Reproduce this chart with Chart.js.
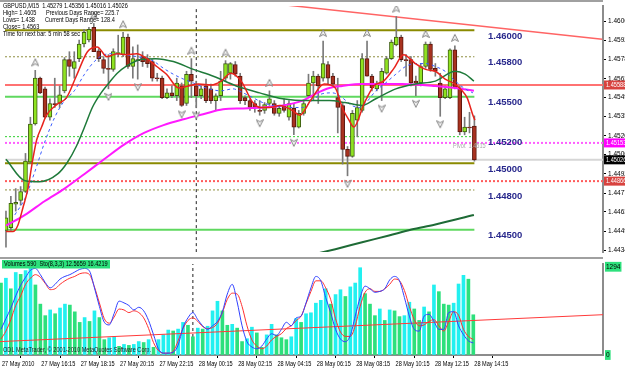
<!DOCTYPE html>
<html><head><meta charset="utf-8">
<script src="https://cdn.jsdelivr.net/npm/chart.js"></script>
<style>
html,body{margin:0;padding:0;background:#fff;}
#wrap{position:relative;width:625px;height:370px;overflow:hidden;background:#fff;}
canvas{position:absolute;left:0;}
#c1{top:0}
#c2{top:257px}
</style></head><body><div id="wrap"><canvas id="c1" width="625" height="258"></canvas><canvas id="c2" width="625" height="113"></canvas></div>
<script>
// ---------------- DATA ----------------
const timeLabels = ["27 May 2010","27 May 16:15","27 May 18:15","27 May 20:15","27 May 22:15","28 May 00:15","28 May 02:15","28 May 04:15","28 May 06:15","28 May 08:15","28 May 10:15","28 May 12:15","28 May 14:15"];
const timeTickIdx = [0,8,16,24,32,40,48,56,64,72,80,88,96];
const priceTicks = [1.46065,1.45925,1.45780,1.45635,1.45495,1.45350,1.45205,1.45065,1.44920,1.44775,1.44635,1.44490,1.44348];

const opens = [1.44495,1.44517,1.44693,1.44722,1.44788,1.45008,1.45295,1.45639,1.45559,1.45346,
1.45449,1.45449,1.45544,1.45779,1.45713,1.45786,1.45896,1.45926,1.46021,1.45845,
1.45779,1.45713,1.45705,1.45823,1.45816,1.45948,1.45727,1.45779,1.45801,1.45786,
1.45764,1.45639,1.45639,1.45493,1.45529,1.45507,1.45581,1.45449,1.45669,1.45581,
1.45507,1.45581,1.45559,1.45471,1.45507,1.45639,1.45676,1.45742,1.45654,1.45493,
1.45471,1.45449,1.45397,1.45397,1.45449,1.45449,1.45375,1.45434,1.45346,1.45412,
1.45272,1.45375,1.45507,1.45603,1.45654,1.45639,1.45742,1.45654,1.45493,1.45434,
1.45104,1.45052,1.45324,1.45397,1.45786,1.45654,1.45559,1.45595,1.45676,1.45786,
1.45889,1.45948,1.45779,1.45779,1.45617,1.45603,1.45727,1.45896,1.45713,1.45603,
1.45493,1.45493,1.45852,1.45566,1.45236,1.45272,1.45279];
const highs = [1.44641,1.44752,1.44810,1.44825,1.45074,1.45346,1.45698,1.45647,1.45573,1.45485,
1.45639,1.45581,1.45794,1.45838,1.45838,1.45926,1.46006,1.46021,1.46050,1.45860,
1.45801,1.45816,1.45860,1.45962,1.45984,1.45970,1.45874,1.45889,1.45838,1.45816,
1.45779,1.45676,1.45654,1.45559,1.45581,1.45639,1.45603,1.45691,1.45786,1.45617,
1.45581,1.45632,1.45595,1.45522,1.45691,1.45771,1.45757,1.45764,1.45676,1.45507,
1.45485,1.45471,1.45471,1.45456,1.45544,1.45471,1.45434,1.45485,1.45471,1.45449,
1.45397,1.45471,1.45669,1.45691,1.45669,1.45918,1.45764,1.45676,1.45639,1.45449,
1.45126,1.45397,1.45471,1.45823,1.45918,1.45669,1.45617,1.45713,1.45801,1.45926,
1.46102,1.45962,1.45816,1.45801,1.45654,1.45749,1.45911,1.45911,1.45749,1.45676,
1.45581,1.45860,1.45882,1.45581,1.45346,1.45383,1.45356];
const lows = [1.44370,1.44495,1.44641,1.44685,1.44781,1.45001,1.45287,1.45522,1.45339,1.45324,
1.45419,1.45419,1.45529,1.45654,1.45639,1.45764,1.45874,1.45911,1.45838,1.45764,
1.45676,1.45559,1.45691,1.45801,1.45801,1.45713,1.45639,1.45632,1.45727,1.45720,
1.45617,1.45617,1.45485,1.45485,1.45493,1.45471,1.45427,1.45434,1.45493,1.45419,
1.45485,1.45456,1.45449,1.45397,1.45471,1.45617,1.45632,1.45654,1.45449,1.45441,
1.45397,1.45383,1.45361,1.45375,1.45434,1.45361,1.45353,1.45383,1.45324,1.45214,
1.45265,1.45361,1.45493,1.45471,1.45449,1.45617,1.45595,1.45581,1.45228,1.44994,
1.44906,1.45045,1.45199,1.45383,1.45654,1.45544,1.45544,1.45471,1.45669,1.45779,
1.45882,1.45764,1.45654,1.45581,1.45507,1.45581,1.45713,1.45691,1.45654,1.45353,
1.45485,1.45485,1.45559,1.45214,1.45214,1.45228,1.45016];
const closes = [1.44590,1.44700,1.44707,1.44788,1.45016,1.45295,1.45639,1.45529,1.45346,1.45449,
1.45441,1.45515,1.45779,1.45727,1.45764,1.45896,1.45984,1.46006,1.45838,1.45786,
1.45713,1.45705,1.45838,1.45830,1.45948,1.45727,1.45786,1.45771,1.45764,1.45749,
1.45639,1.45635,1.45493,1.45529,1.45507,1.45603,1.45434,1.45669,1.45617,1.45507,
1.45559,1.45471,1.45471,1.45507,1.45617,1.45749,1.45749,1.45669,1.45471,1.45471,
1.45419,1.45419,1.45390,1.45441,1.45485,1.45375,1.45412,1.45397,1.45449,1.45272,
1.45375,1.45449,1.45603,1.45654,1.45581,1.45749,1.45639,1.45595,1.45419,1.45104,
1.45052,1.45375,1.45419,1.45786,1.45654,1.45566,1.45603,1.45691,1.45786,1.45911,
1.45948,1.45779,1.45771,1.45603,1.45603,1.45727,1.45896,1.45705,1.45691,1.45493,
1.45559,1.45852,1.45566,1.45236,1.45272,1.45265,1.45026];

const upFractals = [6,18,24,38,45,54,65,74,80,86,92];
const downFractals = [21,27,36,39,52,59,70,77,84,89];

const maFast = [[0,1.44487],[1.4,1.44487],[2.4,1.44531],[3.5,1.44670],[4.5,1.44810],[5.5,1.45030],[6.3,1.45177],[7.3,1.45272],[8.3,1.45361],[10.4,1.45441],[12.4,1.45493],[14.4,1.45654],[16.7,1.45838],[18.7,1.45874],[20.7,1.45801],[22.8,1.45823],[24.8,1.45816],[26.8,1.45823],[28.9,1.45786],[30.9,1.45727],[32.9,1.45669],[35.4,1.45566],[37.4,1.45581],[39.4,1.45595],[42.1,1.45588],[44.1,1.45617],[46.1,1.45676],[48.2,1.45617],[50.6,1.45456],[52.2,1.45419],[54.1,1.45419],[56.1,1.45434],[58.7,1.45397],[60.2,1.45361],[62.4,1.45471],[65.2,1.45595],[67.5,1.45566],[68.9,1.45419],[70.3,1.45324],[71.3,1.45272],[73.4,1.45449],[75.4,1.45581],[77.4,1.45617],[79.5,1.45713],[81.5,1.45816],[83.9,1.45749],[86,1.45705],[88,1.45691],[90,1.45632],[92,1.45595],[93.5,1.45544],[94.5,1.45493],[95.7,1.45361],[96.1,1.45324]];
const maMid = [[0,1.45030],[3.9,1.44869],[6.9,1.44862],[10.6,1.44920],[12.6,1.45008],[14.4,1.45126],[16.1,1.45272],[17.7,1.45419],[19.5,1.45529],[21.1,1.45603],[22.8,1.45676],[24.6,1.45727],[27.6,1.45779],[30.7,1.45786],[34.3,1.45764],[38.4,1.45705],[42.5,1.45654],[47.2,1.45581],[52,1.45529],[56.7,1.45485],[62.2,1.45471],[66.3,1.45471],[69.5,1.45456],[73,1.45434],[75.8,1.45485],[79.9,1.45559],[83.9,1.45595],[88,1.45617],[92.1,1.45691],[94.1,1.45669],[95.9,1.45617]];
const maSlow = [[0,1.44531],[3.9,1.44612],[7.9,1.44715],[12,1.44810],[16.1,1.44920],[20.1,1.45030],[24.2,1.45140],[28.3,1.45228],[32.3,1.45287],[36.4,1.45331],[40.4,1.45368],[44.5,1.45405],[48.6,1.45412],[52.6,1.45419],[56.7,1.45434],[60.8,1.45471],[63.4,1.45522],[66.3,1.45566],[68.9,1.45581],[73,1.45595],[81.1,1.45595],[88,1.45581],[92.1,1.45566],[95.9,1.45544]];
const maDash = [[1.8,1.44612],[3.9,1.44737],[5.9,1.44935],[7.9,1.45155],[10,1.45346],[12,1.45471],[14,1.45544],[16.1,1.45669],[18.1,1.45764],[20.1,1.45816],[22.2,1.45823],[24.2,1.45816],[26.8,1.45801],[29.7,1.45779],[32.3,1.45713],[34.3,1.45669],[36.4,1.45632],[38.4,1.45603],[40.4,1.45573],[44.1,1.45544],[46.5,1.45559],[48.6,1.45529],[50.6,1.45493],[52.6,1.45456],[54.7,1.45434],[58.7,1.45419],[60.8,1.45419],[62.8,1.45471],[64.8,1.45522],[66.9,1.45529],[68.9,1.45493],[70.9,1.45434],[72.4,1.45419],[73.8,1.45456],[75.8,1.45544],[77.8,1.45603],[79.9,1.45669],[81.9,1.45727],[83.9,1.45749],[86,1.45749],[88,1.45727],[90,1.45691],[92.1,1.45617],[94.1,1.45559],[95.7,1.45529]];
const maLong = [[60,1.44290],[63.4,1.44319],[67.5,1.44355],[73,1.44407],[78.5,1.44458],[83.1,1.44502],[87.8,1.44539],[95.9,1.44612]];

const levelPrices = [1.46000,1.45800,1.45588,1.45500,1.45200,1.45153,1.45026,1.45000,1.44866,1.44800,1.44500];
const bigLevels = [1.46000,1.45800,1.45500,1.45200,1.45000,1.44800,1.44500];
const tagPrices = [1.45588,1.45153,1.45026,1.44866];
const trendIdx = [54.3,122.2];
const trendPrices = [1.46201,1.45931];
const separatorIdx = 39;

const volumes = [1055,1126,971,1210,1182,1238,1280,1027,746,577,
661,605,689,746,732,633,478,549,492,647,
549,225,253,267,127,155,141,155,197,183,
225,113,225,295,366,352,380,478,436,267,
394,380,422,647,788,647,436,450,394,197,
239,408,324,113,295,450,295,253,225,267,
535,478,605,619,760,802,971,746,886,957,
858,999,1055,1280,900,746,577,675,507,661,
647,563,577,774,675,507,704,633,1027,929,
746,732,760,1041,1168,1112,590];
const stochMain = [28,40,52,66,78,87,95,97,90,81,75,79,85,88,90,93,96,97,94,75,54,36,33,46,60,58,55,50,53,49,38,22,6,1,1,2,10,30,41,47,39,32,28,32,37,48,68,79,
59,32,14,8,6,9,17,23,21,28,36,32,41,43,58,75,88,83,64,47,28,17,14,21,43,64,77,74,70,71,74,84,88,83,64,43,28,26,43,45,37,28,28,47,48,32,22,15,12.57];
const stochSignal = [17,26,39,55,66,79,86,90,87,80,73,74,79,83,86,88,91,92,90,76,58,40,35,42,51,50,47,49,47,41,29,13,4,1,1,3,15,29,38,41,37,31,29,30,35,47,62,69,68,
54,32,16,9,6,9,16,20,23,29,32,38,43,57,71,83,83,75,62,40,25,20,20,32,54,70,74,71,71,74,79,85,83,72,54,39,32,33,37,39,32,26,37,48,44,28,20,16.42];
const volTrendIdx = [-0.2,122.36];
const volTrendSto = [14.1,44.6];
const volTicks = [0,1294];

// ---------------- RENDER ----------------
const FONT = "'Liberation Sans', Arial, sans-serif";
const X_MIN = -0.2, X_MAX = 122.36;
const Y_MIN = 1.44333, Y_MAX = 1.46182;
const idx = opens.map((_, i) => i);
const LAST = opens.length - 1;
const pairs = a => a.map(([i, p]) => ({x: i, y: p}));
const SX = 0.8;

// narrow text helper (MT4 small font look)
function ntext(ctx, s, x, y, size, sx) {
  ctx.save();
  ctx.font = size + 'px ' + FONT;
  ctx.translate(x, y); ctx.scale(sx, 1);
  ctx.fillText(s, 0, 0);
  ctx.restore();
}

function arrowImg(up) {
  const c = document.createElement('canvas'); c.width = 8; c.height = 32;
  const g = c.getContext('2d');
  g.strokeStyle = '#858585'; g.fillStyle = '#f2f2f2'; g.lineWidth = 1;
  g.beginPath();
  if (up) { g.moveTo(0.5, 11.5); g.lineTo(4, 4.5); g.lineTo(7.5, 11.5); g.lineTo(4, 9.5); }
  else { g.moveTo(0.5, 20.5); g.lineTo(4, 27.5); g.lineTo(7.5, 20.5); g.lineTo(4, 22.5); }
  g.closePath(); g.fill(); g.stroke();
  return c;
}

const levelStyles = [
  {c:'#8a8a00', w:2, d:[], full:false},
  {c:'#8f8f40', w:1, d:[2,2], full:false},
  {c:'#ff7272', w:2, d:[], full:true},
  {c:'#5fd85f', w:2, d:[], full:false},
  {c:'#2fcf2f', w:1, d:[2,2], full:false},
  {c:'#ff5cff', w:2, d:[2,2], full:true},
  {c:'#d6d6d6', w:2, d:[], full:true},
  {c:'#8a8a00', w:2, d:[], full:false},
  {c:'#ff5a5a', w:2, d:[2,2], full:true},
  {c:'#8f8f40', w:1, d:[2,2], full:false},
  {c:'#5fd85f', w:2, d:[], full:false}
];
const tagColors = ['#d8433f', '#ff00ff', '#000000', '#d8433f'];

const levelSets = levelPrices.map((p, k) => ({
  type:'line', data:[{x:X_MIN, y:p}, {x: levelStyles[k].full ? X_MAX : LAST, y:p}],
  borderColor: levelStyles[k].c, borderWidth: levelStyles[k].w, borderDash: levelStyles[k].d,
  pointRadius:0, order:20
}));

const upCol = '#8fe320', dnCol = '#a8321f';
const bodyColors = idx.map(i => closes[i] >= opens[i] ? upCol : dnCol);
const bodyBorders = idx.map(i => closes[i] >= opens[i] ? '#3f5f12' : '#5b160d');

const lineDs = (data, color, width, order, dash) => ({
  type:'line', data, borderColor:color, borderWidth:width, borderDash: dash || [],
  pointRadius:0, tension:0.4, cubicInterpolationMode:'monotone', order
});

const mainDeco = {
  id:'mainDeco',
  afterDraw(chart) {
    const {ctx, chartArea:a, scales:{y}} = chart;
    ctx.save();
    ctx.strokeStyle = '#a0a0a0'; ctx.lineWidth = 2;
    ctx.beginPath(); ctx.moveTo(0, 1); ctx.lineTo(a.right, 1); ctx.stroke();
    ctx.fillStyle = '#28288c'; ctx.font = 'bold 9.5px ' + FONT; ctx.textBaseline = 'middle'; ctx.textAlign = 'left';
    bigLevels.forEach(p => ctx.fillText(p.toFixed(5), 488, y.getPixelForValue(p) + 6));
    ctx.fillStyle = '#a9a9a9';
    ntext(ctx, 'Pivot  1.4515', 453, y.getPixelForValue(1.45153) + 3.5, 7, SX);
    ctx.fillStyle = '#000';
    ntext(ctx, 'GBPUSD,M15  1.45279 1.45356 1.45016 1.45026', 3, 6, 7, SX);
    ntext(ctx, 'High= 1.4605', 3, 13.3, 7, SX); ntext(ctx, 'Previous Days Range= 225.7', 46, 13.3, 7, SX);
    ntext(ctx, 'Lows= 1.438', 3, 20.3, 7, SX); ntext(ctx, 'Current Days Range= 128.4', 45, 20.3, 7, SX);
    ntext(ctx, 'Close= 1.4563', 3, 27, 7, SX);
    ntext(ctx, 'Time for next bar: 5 min 58 sec', 3, 34.5, 7, SX);
    tagPrices.forEach((p, k) => {
      const py = y.getPixelForValue(p);
      ctx.fillStyle = tagColors[k]; ctx.fillRect(604, py - 4.5, 21, 9);
      ctx.fillStyle = '#fff'; ntext(ctx, p.toFixed(5), 606, py, 7, SX);
    });
    ctx.restore();
  }
};

new Chart(document.getElementById('c1'), {
  type:'bar',
  data:{datasets:[
    ...levelSets,
    {type:'line', data: trendIdx.map((i,k)=>({x:i, y:trendPrices[k]})), borderColor:'#ff6464', borderWidth:1.5, pointRadius:0, order:19},
    {type:'line', data:[{x:separatorIdx, y:Y_MIN},{x:separatorIdx, y:Y_MAX}], borderColor:'#222', borderWidth:1, borderDash:[3,3], pointRadius:0, order:19},
    {type:'bar', data: idx.map(i=>({x:i, y:[lows[i], highs[i]]})), backgroundColor:'#7a7a7a', barThickness:1, grouped:false, order:10},
    {type:'bar', data: idx.map(i=>({x:i, y:[opens[i], closes[i]]})), backgroundColor: bodyColors, borderColor: bodyBorders,
      borderWidth:1, borderSkipped:false, barThickness:4, grouped:false, minBarLength:1, order:9},
    lineDs(pairs(maLong), '#1e6b36', 2, 6),
    lineDs(pairs(maSlow), '#ff1aff', 2, 6),
    lineDs(pairs(maMid), '#1f7a3a', 1.5, 5),
    lineDs(pairs(maDash), '#3a5cff', 1, 5, [3,3]),
    lineDs(pairs(maFast), '#e8231c', 1.5, 4),
    {type:'line', showLine:false, data: upFractals.map(i=>({x:i, y:highs[i]})), pointStyle: arrowImg(true), pointRadius:4, order:1},
    {type:'line', showLine:false, data: downFractals.map(i=>({x:i, y:lows[i]})), pointStyle: arrowImg(false), pointRadius:4, order:1}
  ]},
  options:{
    responsive:false, animation:false, events:[],
    layout:{padding:{top:3, bottom:2, left:0, right:0}},
    plugins:{legend:{display:false}, tooltip:{enabled:false}},
    scales:{
      x:{type:'linear', min:X_MIN, max:X_MAX, offset:false, display:false},
      y:{type:'linear', position:'right', min:Y_MIN, max:Y_MAX,
        afterFit: s => { s.width = 22; },
        afterBuildTicks: s => { s.ticks = priceTicks.map(v => ({value:v})); },
        grid:{drawOnChartArea:false, drawTicks:true, tickLength:3, color:'#000'},
        border:{display:true, color:'#8c8c8c', width:2},
        ticks:{autoSkip:false, padding:2, color:'#000', font:{size:6.5, family:FONT}, callback: v => v.toFixed(5)}
      }
    }
  },
  plugins:[mainDeco]
});

// ---------------- LOWER PANEL ----------------
const cyan = '#22f0f0', green = '#2de07c';
const volColors = volumes.map((v, i) => (i > 0 && v > volumes[i-1]) ? cyan : green);

const lowDeco = {
  id:'lowDeco',
  afterDraw(chart) {
    const {ctx, chartArea:a, scales:{x}} = chart;
    ctx.save();
    ctx.strokeStyle = '#a0a0a0'; ctx.lineWidth = 2;
    ctx.beginPath(); ctx.moveTo(0, 1); ctx.lineTo(a.right, 1); ctx.stroke();
    ctx.textBaseline = 'middle'; ctx.textAlign = 'left';
    ctx.fillStyle = '#2de07c'; ctx.fillRect(2, 3, 108, 8.5);
    ctx.fillStyle = '#000';
    ntext(ctx, 'Volumes 590  Sto(8,3,3) 12.5659 16.4219', 4, 7.3, 7, SX);
    ctx.fillStyle = '#222';
    ntext(ctx, 'ODL MetaTrader, \u00a9 2001-2010 MetaQuotes Software Corp.', 3, 93, 7, SX);
    // time axis labels, placed at the x scale's ticks
    ctx.fillStyle = '#000';
    x.ticks.forEach((t, k) => ntext(ctx, timeLabels[k], x.getPixelForValue(t.value) + 1, a.bottom + 9, 7, SX));
    ctx.restore();
  }
};

new Chart(document.getElementById('c2'), {
  type:'bar',
  data:{datasets:[
    {type:'line', data:[{x:separatorIdx, y:-1.09},{x:separatorIdx, y:102.17}], yAxisID:'yS', borderColor:'#222', borderWidth:1, borderDash:[3,3], pointRadius:0, order:20},
    {type:'bar', data: idx.map(i=>({x:i, y:volumes[i]})), yAxisID:'yV', backgroundColor: volColors, barThickness:3, grouped:false, order:10},
    {type:'line', data: volTrendIdx.map((i,k)=>({x:i, y:volTrendSto[k]})), yAxisID:'yS', borderColor:'#ff3a3a', borderWidth:1, pointRadius:0, order:6},
    {type:'line', data: idx.map(i=>({x:i, y:stochSignal[i]})), yAxisID:'yS', borderColor:'#ff3030', borderWidth:1, pointRadius:0, tension:0.35, cubicInterpolationMode:'monotone', order:4},
    {type:'line', data: idx.map(i=>({x:i, y:stochMain[i]})), yAxisID:'yS', borderColor:'#3040ff', borderWidth:1, pointRadius:0, tension:0.35, cubicInterpolationMode:'monotone', order:3}
  ]},
  options:{
    responsive:false, animation:false, events:[],
    layout:{padding:{top:3, bottom:0, left:0, right:0}},
    plugins:{legend:{display:false}, tooltip:{enabled:false}},
    scales:{
      x:{type:'linear', position:'bottom', min:X_MIN, max:X_MAX, offset:false,
        afterFit: s => { s.height = 15; },
        afterBuildTicks: s => { s.ticks = timeTickIdx.map(v => ({value:v})); },
        grid:{drawOnChartArea:false, drawTicks:true, tickLength:3, color:'#000'},
        border:{display:true, color:'#8c8c8c', width:2},
        ticks:{display:false, autoSkip:false, maxRotation:0, minRotation:0, callback: (v, i) => timeLabels[i]}
      },
      yV:{type:'linear', position:'right', min:0, max:1336,
        afterFit: s => { s.width = 22; },
        afterBuildTicks: s => { s.ticks = volTicks.map(v => ({value:v})); },
        grid:{drawOnChartArea:false, drawTicks:false},
        border:{display:true, color:'#8c8c8c', width:2},
        ticks:{autoSkip:false, padding:3, color:'#000', font:{size:6.5, family:FONT},
          showLabelBackdrop:true, backdropColor:'#2de07c', backdropPadding:1, callback: v => String(v)}
      },
      yS:{type:'linear', display:false, min:-1.09, max:102.17}
    }
  },
  plugins:[lowDeco]
});
</script></body></html>
